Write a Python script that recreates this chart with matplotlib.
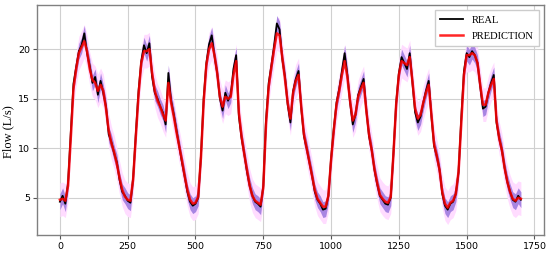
import numpy as np
import matplotlib
matplotlib.use('Agg')
import matplotlib.pyplot as plt

step = 10
real = [4.6, 5.2, 4.4, 6.5, 11.5, 16.5, 18.2, 19.8, 20.4, 21.6,
        19.6, 18.3, 16.6, 17.2, 15.4, 16.8, 15.6, 14.2, 11.4, 10.6,
        9.5, 8.6, 6.8, 5.6, 5.2, 4.7, 4.5, 7.0, 11.5, 15.8,
        18.8, 20.4, 19.6, 20.6, 17.2, 15.6, 15.0, 14.2, 13.6, 12.4,
        17.6, 14.8, 13.4, 11.8, 10.2, 8.6, 7.2, 5.6, 4.6, 4.2,
        4.4, 5.0, 9.2, 15.0, 18.6, 20.5, 21.4, 19.3, 17.6, 15.0,
        13.8, 15.6, 14.8, 15.4, 18.0, 19.4, 13.2, 11.0, 9.4, 7.6,
        6.2, 5.2, 4.6, 4.4, 4.1, 6.2, 12.8, 16.6, 18.4, 20.4,
        22.6, 22.0, 19.0, 17.2, 14.4, 12.6, 15.8, 17.0, 17.8, 14.0,
        11.2, 10.0, 8.6, 7.2, 5.6, 4.8, 4.4, 3.8, 3.9, 5.2,
        9.0, 12.0, 14.6, 16.0, 17.8, 19.6, 17.4, 14.6, 12.4, 13.4,
        15.4, 16.2, 17.0, 13.8, 11.2, 9.8, 7.8, 6.4, 5.2, 4.8,
        4.4, 4.3, 5.0, 9.6, 14.6, 17.6, 19.2, 18.6, 18.0, 19.6,
        16.6, 13.6, 12.6, 13.2, 14.6, 15.8, 16.8, 13.2, 10.2, 9.2,
        7.8, 5.4, 4.2, 3.8, 4.4, 4.6, 5.4, 7.6, 13.0, 17.8,
        19.6, 19.2, 19.8, 19.4, 18.6, 16.2, 14.0, 14.2, 15.6, 16.6,
        17.4, 12.6, 11.0, 9.8, 8.0, 6.6, 5.6, 4.8, 4.6, 5.2,
        4.8]
pred = [4.8, 4.9, 4.7, 6.2, 11.0, 16.0, 18.0, 19.6, 20.2, 20.8,
        19.8, 18.0, 16.9, 16.6, 15.8, 16.4, 15.8, 14.0, 11.8, 10.5,
        9.6, 8.4, 7.0, 5.8, 5.1, 4.8, 4.7, 6.8, 11.2, 15.4,
        18.6, 19.8, 19.8, 20.0, 17.6, 15.8, 14.8, 14.2, 13.4, 12.8,
        16.6, 14.6, 13.2, 11.6, 10.2, 8.8, 7.2, 5.8, 4.8, 4.4,
        4.5, 5.1, 9.0, 14.6, 18.4, 20.0, 20.6, 19.4, 17.6, 15.2,
        14.2, 15.2, 15.0, 15.2, 17.4, 18.8, 13.6, 11.2, 9.4, 7.8,
        6.2, 5.2, 4.7, 4.5, 4.3, 6.0, 12.4, 16.2, 18.2, 20.0,
        21.6, 21.4, 19.2, 17.0, 14.6, 13.0, 15.6, 16.8, 17.4, 14.2,
        11.4, 10.0, 8.6, 7.2, 5.8, 4.9, 4.5, 4.1, 4.1, 5.2,
        8.8, 11.8, 14.4, 15.8, 17.4, 18.8, 17.2, 14.8, 12.8, 13.4,
        15.2, 16.0, 16.6, 13.8, 11.4, 9.8, 7.9, 6.5, 5.3, 4.9,
        4.6, 4.5, 5.1, 9.4, 14.4, 17.4, 18.8, 18.6, 18.4, 19.2,
        16.8, 14.0, 13.0, 13.4, 14.6, 15.6, 16.4, 13.4, 10.4, 9.2,
        7.8, 5.6, 4.4, 4.0, 4.5, 4.7, 5.4, 7.6, 12.6, 17.4,
        19.4, 19.4, 19.6, 19.4, 18.6, 16.4, 14.4, 14.4, 15.6, 16.4,
        17.0, 12.8, 11.0, 9.8, 8.0, 6.6, 5.6, 4.9, 4.7, 5.0,
        4.9]
band_inner = 0.8   # half width of the purple interval
band_outer = 1.7   # half width of the pink interval

real = np.array(real)
pred = np.array(pred)
t = np.arange(len(real)) * step

fig = plt.figure(figsize=(5.5, 2.54), dpi=100)
ax = fig.add_axes([0.067, 0.075, 0.922, 0.905])

ax.fill_between(t, pred - band_outer, pred + band_outer, color='#ffdcff', lw=0)
ax.fill_between(t, real - band_inner, real + band_inner, color='#9370db', alpha=0.8, lw=0)
ax.plot(t, real, color='black', lw=1.3, label='REAL')
ax.plot(t, pred, color='red', lw=1.8, alpha=0.85, label='PREDICTION')

ax.set_xticks(np.arange(0, 1751, 250))
ax.set_yticks([5, 10, 15, 20])
ax.tick_params(labelsize=6.8, length=3, pad=2, color='#555555')
ax.grid(True, color='#d0d0d0', lw=0.8)
ax.set_axisbelow(True)
for s in ax.spines.values():
    s.set_color('#808080')
    s.set_linewidth(1.0)

ax.set_ylabel('Flow (L/s)', fontfamily='Liberation Serif', fontsize=9)
ax.yaxis.set_label_coords(-0.045, 0.45)
leg = ax.legend(loc='upper right', prop={'family': 'Liberation Serif', 'size': 7.6},
                handlelength=2.2, borderpad=0.5, labelspacing=0.6, fancybox=False,
                edgecolor='#cccccc', framealpha=1)

fig.savefig('out.png', dpi=100)
